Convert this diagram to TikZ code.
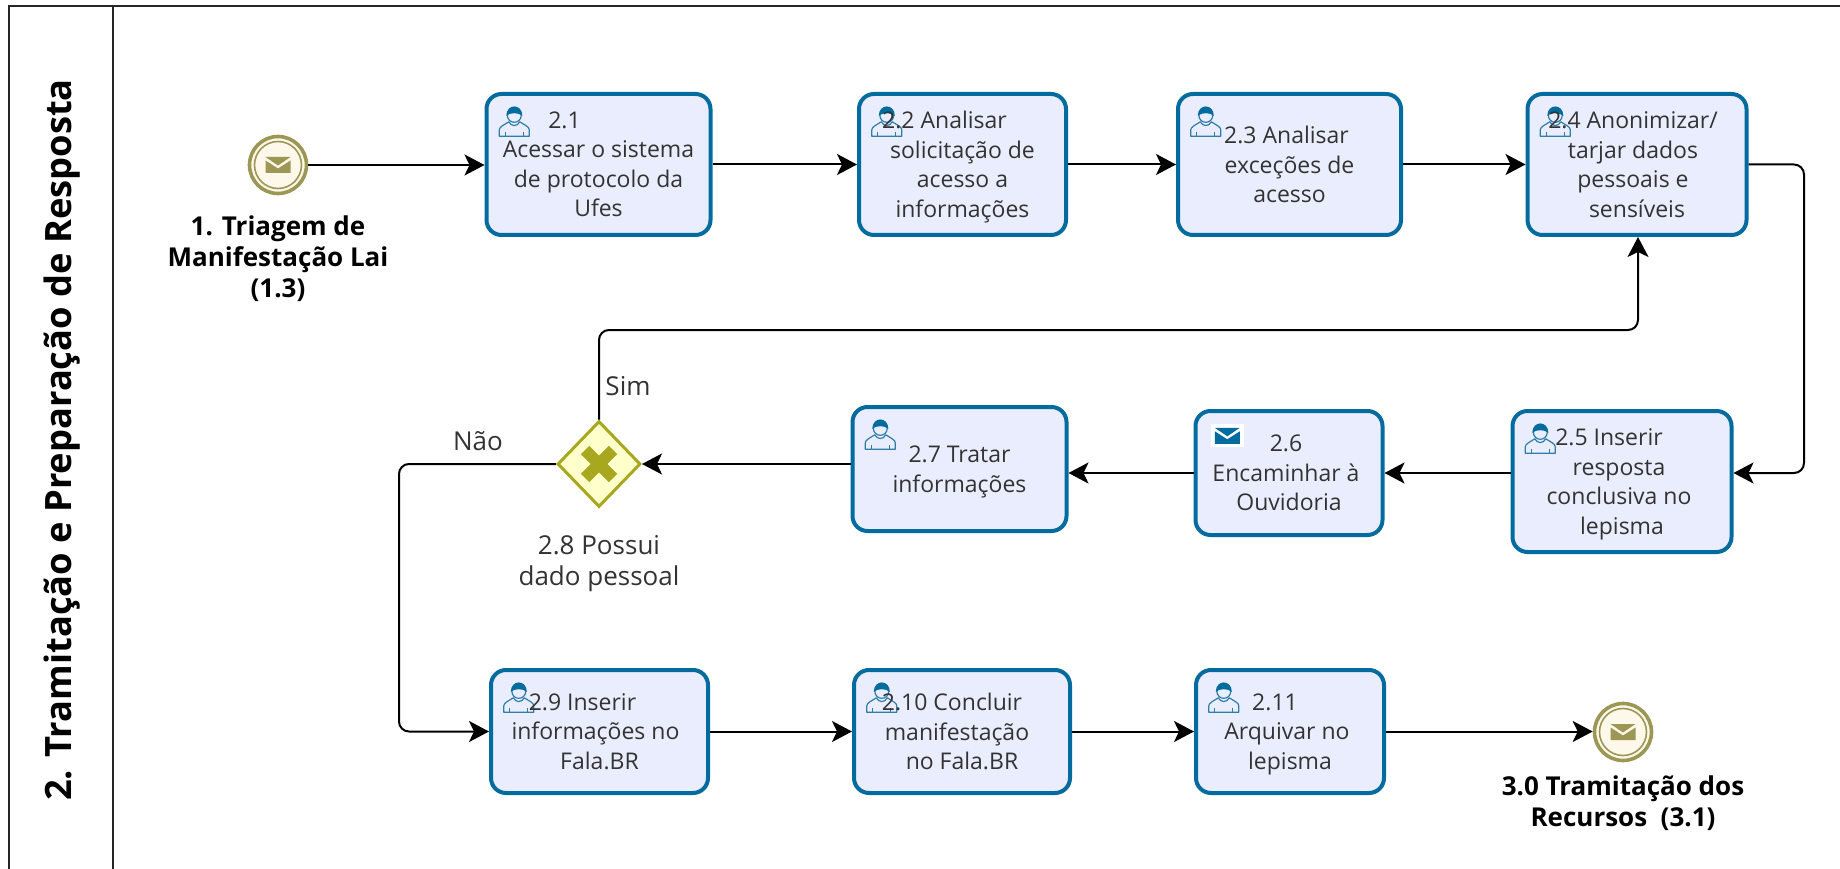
\documentclass[tikz,border=0pt]{standalone}
\usepackage{fontspec}
\setmainfont{Open Sans}
\usetikzlibrary{arrows.meta,shapes.geometric}
\definecolor{taskline}{HTML}{036B9E}
\definecolor{taskfill}{HTML}{E9EDFD}
\definecolor{txt}{HTML}{333333}
\definecolor{evline}{HTML}{9C9755}
\definecolor{evfill}{HTML}{FDF8EA}
\definecolor{gwline}{HTML}{A8A820}
\definecolor{gwfill}{HTML}{FFFFCC}
\definecolor{iconline}{HTML}{2F7DA8}
\newcommand\bodyfont{\fontsize{23}{29.5}\selectfont}
\newcommand\lblfont{\fontsize{26}{31}\selectfont}
\newcommand\boldfont{\fontsize{26}{31}\selectfont\bfseries}
\newcommand\lf[2]{\mbox{#2\hspace{#1pt}}}
\newcommand\nd[1]{\raisebox{0pt}[\height][0pt]{#1}}
\newcommand\usericon{%
  \draw[iconline,line width=1.2pt,line join=round]
    (-15,14.5) -- (-15,8) .. controls (-15,5) and (-10,3) .. (-5.5,0)
    .. controls (-3,5) and (3,5) .. (5.5,0)
    .. controls (10,3) and (15,5) .. (15,8) -- (15,14.5) -- cycle;
  \draw[iconline,line width=1pt] (-9,10) -- (-9,14.5) (9,10) -- (9,14.5);
  \draw[iconline,line width=1.2pt] (-7,-7) .. controls (-7,3) and (7,3) .. (7,-7);
  \fill[taskline] (-8,-6) .. controls (-8,-18.5) and (8,-18.5) .. (8,-6)
    .. controls (4,-9.5) and (-4,-9.5) .. cycle;
}
\newcommand\mailicon[1]{%
  \fill[#1] (-12.5,-8) -- (12.5,-8) -- (0,0.5) -- cycle;
  \fill[#1] (-12.5,-4.5) -- (0,3.5) -- (12.5,-4.5) -- (12.5,8) -- (-12.5,8) -- cycle;
}
\tikzset{
  x=1pt,y=-1pt,
  taskbg/.style={fill=taskfill,rounded corners=15pt,inner sep=0pt},
  task/.style={draw=taskline,line width=4pt,rounded corners=15pt,
    inner sep=0pt,align=center,text=txt,font=\bodyfont},
  flow/.style={draw=black,line width=2pt,rounded corners=10pt,
    -{Stealth[length=20pt,width=21pt,inset=5pt]}},
  event/.style={circle,draw=evline,fill=evfill,line width=3.6pt,minimum size=57pt,inner sep=0pt},
  evring/.style={draw=evline,line width=1.6pt},
  evtext/.style={align=center,text=black,font=\boldfont},
  lbl/.style={align=center,text=txt,font=\lblfont},
  gate/.style={diamond,draw=gwline,fill=gwfill,line width=3pt,minimum width=83pt,minimum height=86pt,inner sep=0pt},
  gatex/.style={draw=gwline,line width=12pt},
  lane/.style={draw=black!85,line width=2pt},
  title/.style={rotate=90,text=black,font=\fontsize{36.3}{40}\selectfont\bfseries}
}
% name, cx, cy, width, height, text
\newcommand\persontask[6]{%
  \node[taskbg,minimum width=#4pt,minimum height=#5pt] (#1-bg) at (#2,#3) {};
  \begin{scope}[shift={(#1-bg.north west)},shift={(28,28)}]\usericon\end{scope}
  \node[task,minimum width=#4pt,minimum height=#5pt] (#1) at (#2,#3) {#6};
}
\newcommand\mailtask[6]{%
  \node[taskbg,minimum width=#4pt,minimum height=#5pt] (#1-bg) at (#2,#3) {};
  \begin{scope}[shift={(#1-bg.north west)},shift={(32,25)}]
    \fill[white] (-16.5,-11.5) rectangle (16.5,11.5);
    \mailicon{taskline}
  \end{scope}
  \node[task,minimum width=#4pt,minimum height=#5pt] (#1) at (#2,#3) {#6};
}
\begin{document}
\begin{tikzpicture}
\useasboundingbox (0,0) rectangle (1840,869);
% pool
\coordinate (tl) at (9,6);
\coordinate (tr) at (1840,6);
\coordinate (bl) at (9,869);
\coordinate (tm) at (113,6);
\coordinate (bm) at (113,869);
\draw[lane] (bl) -- (tl) -- (tr);
\draw[lane] (tm) -- (bm);
\node[title] (ttl) at (62,440) {2. Tramitação e Preparação de Resposta};
% events
\node[event] (start) at (278,165) {};
\begin{scope}[shift={(278,165)}]
  \draw[evring] (0,0) circle (23.5);
  \mailicon{evline}
\end{scope}
\node[evtext] (startl) at (278,259) {1. Triagem de\\Manifestação Lai\\(1.3)};
\node[event] (endev) at (1623,732) {};
\begin{scope}[shift={(1623,732)}]
  \draw[evring] (0,0) circle (23.5);
  \mailicon{evline}
\end{scope}
\node[evtext] (endl) at (1623,803) {3.0 Tramitação dos\\Recursos\ \ (3.1)};
% tasks
\persontask{b1}{598.5}{164.5}{224}{141}{\lf{68}{2.1}\\Acessar o sistema\\de protocolo da\\Ufes}
\persontask{b2}{962.5}{164.5}{207}{141}{\lf{36}{2.2 Analisar}\\solicitação de\\acesso a\\\nd{informações}}
\persontask{b3}{1289.5}{164.5}{223}{141}{\lf{6}{2.3 Analisar}\\exceções de\\acesso}
\persontask{b4}{1637}{164.5}{219}{141}{\lf{8}{2.4 Anonimizar/}\\\lf{8}{tarjar dados}\\\lf{8}{pessoais e}\\sensíveis}
\persontask{b5}{1622}{481.5}{219}{141}{\lf{26}{2.5 Inserir}\\\lf{6}{resposta}\\\lf{6}{conclusiva no}\\\nd{lepisma}}
\mailtask{b6}{1289}{473}{187}{124}{\lf{6}{2.6}\\\lf{6}{Encaminhar à}\\Ouvidoria}
\persontask{b7}{959.5}{469}{214}{124}{2.7 Tratar\\\nd{informações}}
\persontask{b9}{599.5}{731.5}{217}{123}{\lf{34}{2.9 Inserir}\\\lf{8}{informações no}\\Fala.BR}
\persontask{b10}{962}{731.5}{216}{123}{\lf{20}{2.10 Concluir}\\\lf{10}{manifestação}\\no Fala.BR}
\persontask{b11}{1290}{731.5}{188}{123}{\lf{30}{2.11}\\\lf{6}{Arquivar no}\\\nd{lepisma}}
% gateway
\node[gate] (gw) at (599,464) {};
\draw[gatex] (gw.center) ++(-14,-14) -- ++(28,28);
\draw[gatex] (gw.center) ++(14,-14) -- ++(-28,28);
\node[lbl] (gwl) at (599,564) {2.8 Possui\\dado pessoal};
\node[lbl] (sim) at (628,386) {Sim};
\node[lbl] (nao) at (478,441) {Não};
% bends
\coordinate (r1) at (1804,300);
\coordinate (r2) at (1804,473);
\coordinate (s1) at (599,330);
\coordinate (s2) at (1638,330);
\coordinate (n1) at (399,464);
\coordinate (n2) at (399,731.5);
% flows
\draw[flow] (start.east) -- (start.east -| b1.west);
\draw[flow] (b1.east) -- (b2.west);
\draw[flow] (b2.east) -- (b3.west);
\draw[flow] (b3.east) -- (b4.west);
\draw[flow] (b4.east) -| (r1) -- (r2) -- (r2 -| b5.east);
\draw[flow] (r2 -| b5.west) -- (b6.east);
\draw[flow] (b6.west) -- (b6.west -| b7.east);
\draw[flow] (gw.east -| b7.west) -- (gw.east);
\draw[flow] (gw.north) -- (s1) -- (s2) -- (s2 |- b4.south);
\draw[flow] (gw.west) -- (n1) -- (n2) -- (b9.west);
\draw[flow] (b9.east) -- (b10.west);
\draw[flow] (b10.east) -- (b11.west);
\draw[flow] (b11.east) -- (endev.west |- b11.east);
\end{tikzpicture}
\end{document}
